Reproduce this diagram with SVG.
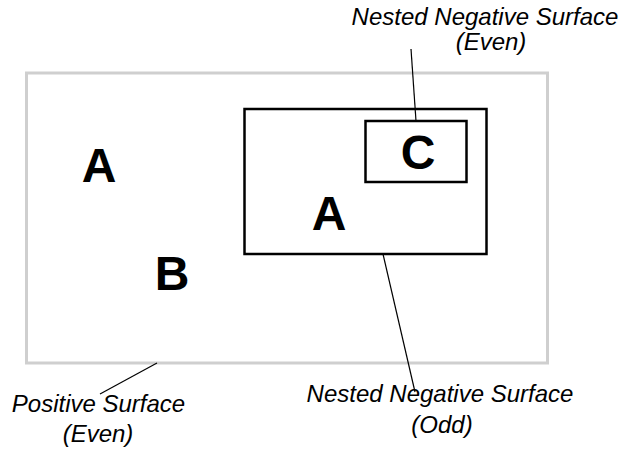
<svg xmlns="http://www.w3.org/2000/svg" width="622" height="450" viewBox="0 0 622 450">
<style>
.lbl{font-family:"Liberation Sans",Arial,sans-serif;font-style:italic;font-size:24px;fill:#000;text-anchor:middle}
.big{font-family:"Liberation Sans",Arial,sans-serif;font-weight:bold;font-size:48px;fill:#000;text-anchor:middle}
.box{fill:none;stroke:#000;stroke-width:2.5}
.conn{stroke:#000;stroke-width:1.2;fill:none}
</style>
<rect width="622" height="450" fill="#fff"/>
<g id="positive-surface">
<rect x="26.5" y="73" width="521" height="290" fill="none" stroke="#cfcfcf" stroke-width="3"/>
<text class="big" x="99" y="182">A</text>
<text class="big" x="172" y="290">B</text>
</g>
<g id="nested-odd">
<rect class="box" x="244.5" y="109" width="242" height="145"/>
<text class="big" x="329" y="230">A</text>
</g>
<g id="nested-even">
<rect class="box" x="365.5" y="121" width="101" height="61"/>
<text class="big" x="418" y="169">C</text>
</g>
<g id="connectors">
<line class="conn" x1="411" y1="49" x2="416" y2="121"/>
<line class="conn" x1="383" y1="254" x2="415" y2="392"/>
<line class="conn" x1="157" y1="363" x2="100" y2="394"/>
</g>
<g id="label-nested-even">
<text class="lbl" x="485" y="25">Nested Negative Surface</text>
<text class="lbl" x="491" y="50">(Even)</text>
</g>
<g id="label-nested-odd">
<text class="lbl" x="440" y="402">Nested Negative Surface</text>
<text class="lbl" x="442" y="433">(Odd)</text>
</g>
<g id="label-positive">
<text class="lbl" x="98.5" y="412">Positive Surface</text>
<text class="lbl" x="98" y="442">(Even)</text>
</g>
</svg>
